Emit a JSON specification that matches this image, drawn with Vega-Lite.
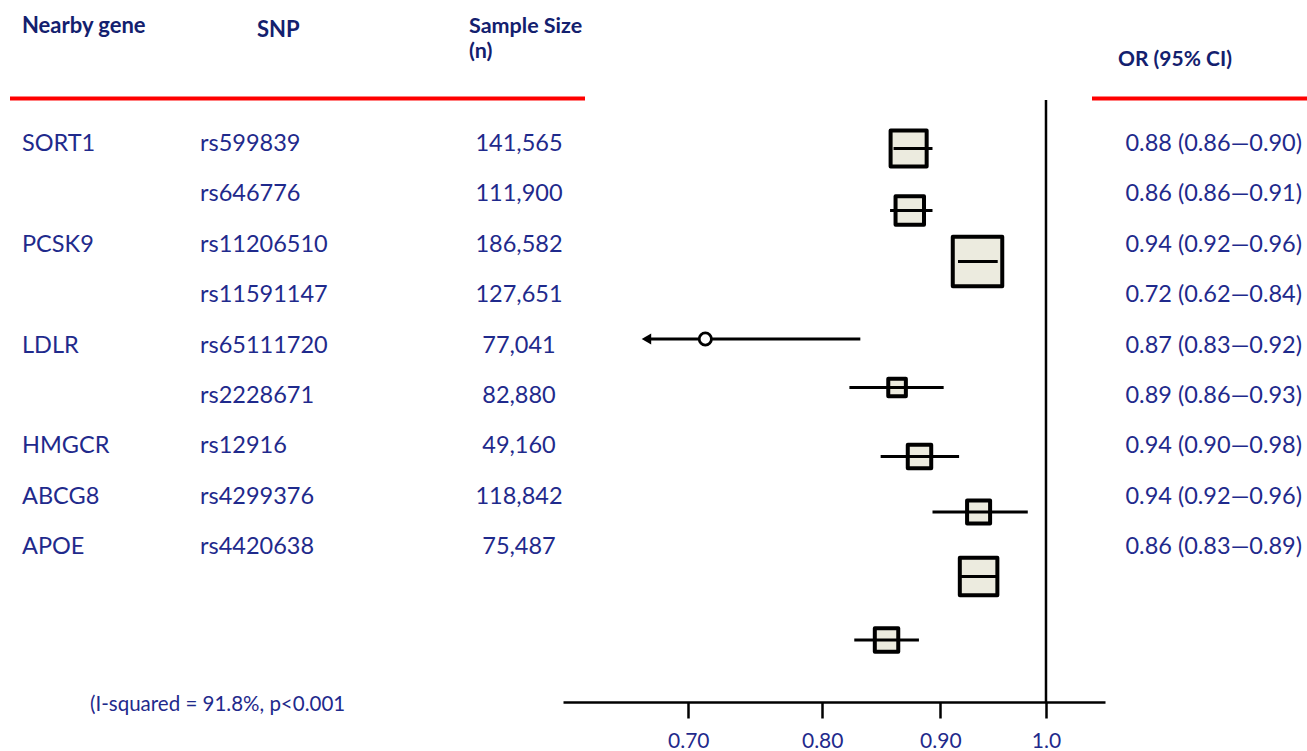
{
  "$schema": "https://vega.github.io/schema/vega-lite/v6.json",
  "padding": 0,
  "bounds": "flush",
  "spacing": 0,
  "config": {
    "view": {"stroke": null},
    "text": {"font": "Lato"},
    "axis": {"grid": false}
  },
  "datasets": {
    "rows": [
      {"row": 1, "gene": "SORT1", "snp": "rs599839", "n": "141,565", "or": "0.88 (0.86—0.90)"},
      {"row": 2, "gene": "", "snp": "rs646776", "n": "111,900", "or": "0.86 (0.86—0.91)"},
      {"row": 3, "gene": "PCSK9", "snp": "rs11206510", "n": "186,582", "or": "0.94 (0.92—0.96)"},
      {"row": 4, "gene": "", "snp": "rs11591147", "n": "127,651", "or": "0.72 (0.62—0.84)"},
      {"row": 5, "gene": "LDLR", "snp": "rs65111720", "n": "77,041", "or": "0.87 (0.83—0.92)"},
      {"row": 6, "gene": "", "snp": "rs2228671", "n": "82,880", "or": "0.89 (0.86—0.93)"},
      {"row": 7, "gene": "HMGCR", "snp": "rs12916", "n": "49,160", "or": "0.94 (0.90—0.98)"},
      {"row": 8, "gene": "ABCG8", "snp": "rs4299376", "n": "118,842", "or": "0.94 (0.92—0.96)"},
      {"row": 9, "gene": "APOE", "snp": "rs4420638", "n": "75,487", "or": "0.86 (0.83—0.89)"}
    ],
    "headers": [
      {"h": "Nearby gene", "col": "gene", "hy": -1.341},
      {"h": "SNP", "col": "snp", "hy": -1.262},
      {"h": "Sample Size", "col": "n", "hy": -1.321},
      {"h": "(n)", "col": "n", "hy": -0.825}
    ],
    "est": [
      {"ypos": 1.089, "est": 0.872, "lo": 0.859, "hi": 0.893, "weight": 13.0},
      {"ypos": 2.319, "est": 0.873, "lo": 0.856, "hi": 0.893, "weight": 8.1},
      {"ypos": 3.331, "est": 0.934, "lo": 0.916, "hi": 0.953, "weight": 24.5},
      {"ypos": 5.831, "est": 0.862, "lo": 0.822, "hi": 0.903, "weight": 3.1},
      {"ypos": 7.2, "est": 0.8815, "lo": 0.848, "hi": 0.917, "weight": 5.5},
      {"ypos": 8.302, "est": 0.935, "lo": 0.893, "hi": 0.982, "weight": 5.3},
      {"ypos": 9.581, "est": 0.935, "lo": 0.918, "hi": 0.953, "weight": 14.1},
      {"ypos": 10.841, "est": 0.853, "lo": 0.826, "hi": 0.881, "weight": 5.5}
    ],
    "trunc": [
      {"ypos": 4.869, "est": 0.712, "lo": 0.6714, "hi": 0.831}
    ]
  },
  "hconcat": [
    {
      "width": 563,
      "height": 702,
      "layer": [
        {
          "data": {"name": "rows"},
          "mark": {"type": "text", "align": "left", "baseline": "middle", "fontSize": 23.5, "color": "#1F2A8C"},
          "encoding": {
            "x": {"datum": 22, "type": "quantitative", "scale": {"domain": [0, 563], "nice": false, "zero": false}, "axis": null},
            "y": {"field": "row", "type": "quantitative", "scale": {"domain": [-1.857, 12.071], "nice": false, "zero": false, "reverse": true}, "axis": null},
            "text": {"field": "gene"}
          }
        },
        {
          "data": {"name": "rows"},
          "mark": {"type": "text", "align": "left", "baseline": "middle", "fontSize": 23.5, "color": "#1F2A8C"},
          "encoding": {
            "x": {"datum": 200, "type": "quantitative", "scale": {"domain": [0, 563], "nice": false, "zero": false}, "axis": null},
            "y": {"field": "row", "type": "quantitative", "scale": {"domain": [-1.857, 12.071], "nice": false, "zero": false, "reverse": true}, "axis": null},
            "text": {"field": "snp"}
          }
        },
        {
          "data": {"name": "rows"},
          "mark": {"type": "text", "align": "center", "baseline": "middle", "fontSize": 23.5, "color": "#1F2A8C"},
          "encoding": {
            "x": {"datum": 519, "type": "quantitative", "scale": {"domain": [0, 563], "nice": false, "zero": false}, "axis": null},
            "y": {"field": "row", "type": "quantitative", "scale": {"domain": [-1.857, 12.071], "nice": false, "zero": false, "reverse": true}, "axis": null},
            "text": {"field": "n"}
          }
        },
        {
          "data": {"name": "headers"},
          "transform": [{"filter": "datum.col == 'gene'"}],
          "mark": {"type": "text", "align": "left", "baseline": "middle", "fontSize": 22, "fontWeight": "bold", "color": "#13206E"},
          "encoding": {
            "x": {"datum": 22, "type": "quantitative", "scale": {"domain": [0, 563], "nice": false, "zero": false}, "axis": null},
            "y": {"field": "hy", "type": "quantitative", "scale": {"domain": [-1.857, 12.071], "nice": false, "zero": false, "reverse": true}, "axis": null},
            "text": {"field": "h"}
          }
        },
        {
          "data": {"name": "headers"},
          "transform": [{"filter": "datum.col == 'snp'"}],
          "mark": {"type": "text", "align": "left", "baseline": "middle", "fontSize": 22, "fontWeight": "bold", "color": "#13206E"},
          "encoding": {
            "x": {"datum": 257, "type": "quantitative", "scale": {"domain": [0, 563], "nice": false, "zero": false}, "axis": null},
            "y": {"field": "hy", "type": "quantitative", "scale": {"domain": [-1.857, 12.071], "nice": false, "zero": false, "reverse": true}, "axis": null},
            "text": {"field": "h"}
          }
        },
        {
          "data": {"name": "headers"},
          "transform": [{"filter": "datum.col == 'n'"}],
          "mark": {"type": "text", "align": "left", "baseline": "middle", "fontSize": 21.5, "fontWeight": "bold", "color": "#13206E"},
          "encoding": {
            "x": {"datum": 469, "type": "quantitative", "scale": {"domain": [0, 563], "nice": false, "zero": false}, "axis": null},
            "y": {"field": "hy", "type": "quantitative", "scale": {"domain": [-1.857, 12.071], "nice": false, "zero": false, "reverse": true}, "axis": null},
            "text": {"field": "h"}
          }
        },
        {
          "data": {"values": [{"from": 10, "to": 585, "ly": 0.097}]},
          "mark": {"type": "rule", "color": "#FF0000", "strokeWidth": 4},
          "encoding": {
            "x": {"field": "from", "type": "quantitative", "scale": {"domain": [0, 563], "nice": false, "zero": false}, "axis": null},
            "x2": {"field": "to"},
            "y": {"field": "ly", "type": "quantitative", "scale": {"domain": [-1.857, 12.071], "nice": false, "zero": false, "reverse": true}, "axis": null}
          }
        },
        {
          "data": {"values": [{"note": "(I-squared = 91.8%, p<0.001", "ny": 12.13}]},
          "mark": {"type": "text", "align": "left", "baseline": "middle", "fontSize": 20.5, "color": "#1F2A8C"},
          "encoding": {
            "x": {"datum": 90, "type": "quantitative", "scale": {"domain": [0, 563], "nice": false, "zero": false}, "axis": null},
            "y": {"field": "ny", "type": "quantitative", "scale": {"domain": [-1.857, 12.071], "nice": false, "zero": false, "reverse": true}, "axis": null},
            "text": {"field": "note"}
          }
        }
      ]
    },
    {
      "width": 542,
      "height": 702,
      "layer": [
        {
          "data": {"name": "est"},
          "mark": {"type": "point", "shape": "square", "filled": true, "fill": "#ECEBDF", "stroke": "black", "strokeWidth": 4, "strokeJoin": "round", "opacity": 1},
          "encoding": {
            "x": {
              "field": "est", "type": "quantitative",
              "scale": {"type": "log", "domain": [0.6178, 1.0606], "nice": false, "zero": false},
              "axis": {
                "values": [0.7, 0.8, 0.9, 1.0],
                "labelExpr": "datum.value == 1 ? '1.0' : format(datum.value, '.2f')",
                "title": null, "grid": false,
                "domainColor": "black", "domainWidth": 2.5,
                "tickColor": "black", "tickWidth": 2.5, "tickSize": 16,
                "labelFont": "Lato", "labelFontSize": 21, "labelColor": "#1F2A8C",
                "labelPadding": 12, "labelFlush": false, "labelOverlap": false
              }
            },
            "y": {"field": "ypos", "type": "quantitative", "scale": {"domain": [-1.857, 12.071], "nice": false, "zero": false, "reverse": true}, "axis": null},
            "size": {"field": "weight", "type": "quantitative", "scale": {"domain": [0, 24.5], "range": [0, 2450]}, "legend": null}
          }
        },
        {
          "data": {"name": "est"},
          "mark": {"type": "rule", "color": "black", "strokeWidth": 3},
          "encoding": {
            "x": {"field": "lo", "type": "quantitative", "scale": {"type": "log", "domain": [0.6178, 1.0606], "nice": false, "zero": false}},
            "x2": {"field": "hi"},
            "y": {"field": "ypos", "type": "quantitative", "scale": {"domain": [-1.857, 12.071], "nice": false, "zero": false, "reverse": true}, "axis": null}
          }
        },
        {
          "data": {"name": "trunc"},
          "mark": {"type": "rule", "color": "black", "strokeWidth": 3},
          "encoding": {
            "x": {"field": "lo", "type": "quantitative", "scale": {"type": "log", "domain": [0.6178, 1.0606], "nice": false, "zero": false}},
            "x2": {"field": "hi"},
            "y": {"field": "ypos", "type": "quantitative", "scale": {"domain": [-1.857, 12.071], "nice": false, "zero": false, "reverse": true}, "axis": null}
          }
        },
        {
          "data": {"name": "trunc"},
          "mark": {"type": "point", "shape": "triangle-left", "filled": true, "color": "black", "size": 120, "opacity": 1},
          "encoding": {
            "x": {"field": "lo", "type": "quantitative", "scale": {"type": "log", "domain": [0.6178, 1.0606], "nice": false, "zero": false}},
            "y": {"field": "ypos", "type": "quantitative", "scale": {"domain": [-1.857, 12.071], "nice": false, "zero": false, "reverse": true}, "axis": null}
          }
        },
        {
          "data": {"name": "trunc"},
          "mark": {"type": "point", "shape": "circle", "filled": true, "fill": "white", "stroke": "black", "strokeWidth": 2.8, "size": 150, "opacity": 1},
          "encoding": {
            "x": {"field": "est", "type": "quantitative", "scale": {"type": "log", "domain": [0.6178, 1.0606], "nice": false, "zero": false}},
            "y": {"field": "ypos", "type": "quantitative", "scale": {"domain": [-1.857, 12.071], "nice": false, "zero": false, "reverse": true}, "axis": null}
          }
        },
        {
          "data": {"values": [{"ref": 1.0, "top": 0.127, "bottom": 12.071}]},
          "mark": {"type": "rule", "color": "black", "strokeWidth": 2.5},
          "encoding": {
            "x": {"field": "ref", "type": "quantitative", "scale": {"type": "log", "domain": [0.6178, 1.0606], "nice": false, "zero": false}},
            "y": {"field": "top", "type": "quantitative", "scale": {"domain": [-1.857, 12.071], "nice": false, "zero": false, "reverse": true}, "axis": null},
            "y2": {"field": "bottom"}
          }
        }
      ]
    },
    {
      "width": 202,
      "height": 702,
      "layer": [
        {
          "data": {"name": "rows"},
          "mark": {"type": "text", "align": "right", "baseline": "middle", "fontSize": 23.5, "color": "#1F2A8C"},
          "encoding": {
            "x": {"datum": 197, "type": "quantitative", "scale": {"domain": [0, 202], "nice": false, "zero": false}, "axis": null},
            "y": {"field": "row", "type": "quantitative", "scale": {"domain": [-1.857, 12.071], "nice": false, "zero": false, "reverse": true}, "axis": null},
            "text": {"field": "or"}
          }
        },
        {
          "data": {"values": [{"h": "OR (95% CI)", "hy": -0.667}]},
          "mark": {"type": "text", "align": "left", "baseline": "middle", "fontSize": 21, "fontWeight": "bold", "color": "#13206E"},
          "encoding": {
            "x": {"datum": 13, "type": "quantitative", "scale": {"domain": [0, 202], "nice": false, "zero": false}, "axis": null},
            "y": {"field": "hy", "type": "quantitative", "scale": {"domain": [-1.857, 12.071], "nice": false, "zero": false, "reverse": true}, "axis": null},
            "text": {"field": "h"}
          }
        },
        {
          "data": {"values": [{"from": -13, "to": 202, "ly": 0.097}]},
          "mark": {"type": "rule", "color": "#FF0000", "strokeWidth": 4},
          "encoding": {
            "x": {"field": "from", "type": "quantitative", "scale": {"domain": [0, 202], "nice": false, "zero": false}, "axis": null},
            "x2": {"field": "to"},
            "y": {"field": "ly", "type": "quantitative", "scale": {"domain": [-1.857, 12.071], "nice": false, "zero": false, "reverse": true}, "axis": null}
          }
        }
      ]
    }
  ]
}
